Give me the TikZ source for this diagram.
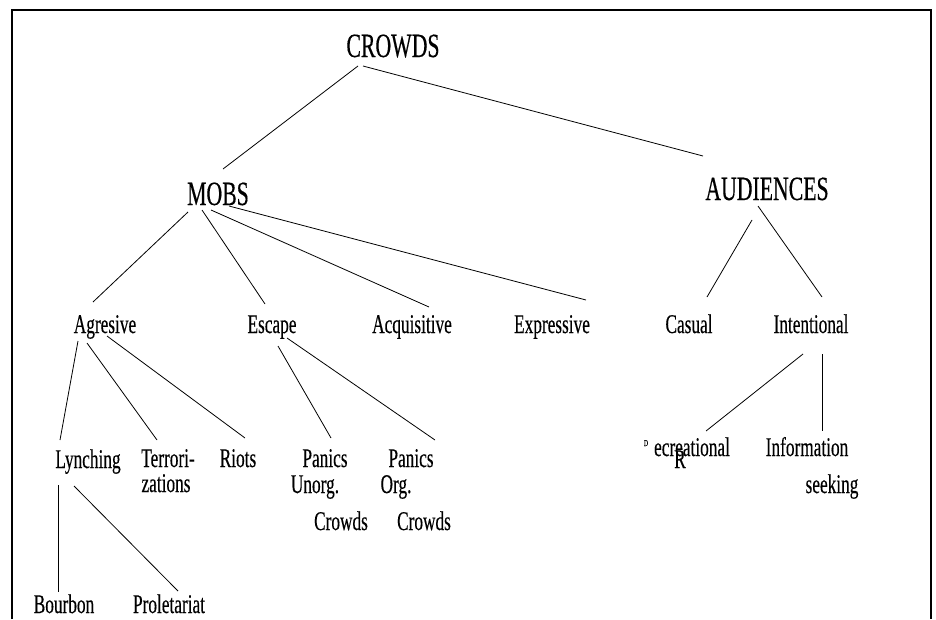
\documentclass[tikz,border=0pt]{standalone}
\usepackage{fontspec}
\setmainfont{Liberation Serif}[FakeStretch=0.64, FakeBold=0.3]

\begin{document}
\begin{tikzpicture}[x=1pt, y=-1pt, every node/.style={inner sep=0pt, anchor=base},
    big/.style={font=\fontsize{34}{40}\selectfont},
    small/.style={font=\fontsize{27}{32}\selectfont},
    tiny/.style={font=\fontsize{9}{10}\selectfont},
    link/.style={line width=0.8pt}]

\useasboundingbox (0,0) rectangle (936,619);
\draw [line width=2.4pt] (12,619) -- (12,10) -- (931,10) -- (931,619);

% nodes ---
\node [big] (crowds) at (393,57) {CROWDS};
\node [big] (mobs) at (218,205) {MOBS};
\node [big] (audiences) at (767,200) {AUDIENCES};

\node [small] (agresive) at (105,333) {Agresive};
\node [small] (escape) at (272,333) {Escape};
\node [small] (acquisitive) at (412,333) {Acquisitive};
\node [small] (expressive) at (552,333) {Expressive};
\node [small] (casual) at (689,333) {Casual};
\node [small] (intentional) at (811,333) {Intentional};

\node [small] (lynching) at (88,468) {Lynching};
\node [small] (terror) at (168,467) {Terrori-};
\node [small] at (166,492) {zations};
\node [small] (riots) at (238,467) {Riots};
\node [small] (panicsa) at (325,467) {Panics};
\node [small] at (315,493) {Unorg.};
\node [small] at (341,530) {Crowds};
\node [small] (panicsb) at (411,467) {Panics};
\node [small] at (396,493) {Org.};
\node [small] at (424,530) {Crowds};

\node [tiny] at (646,446) {D};
\node [small] (recreational) at (692,456) {ecreational};
\node [small] at (680,468) {R};
\node [small] (information) at (807,456) {Information};
\node [small] at (832,493) {seeking};

\node [small] (bourbon) at (64,613) {Bourbon};
\node [small] (proletariat) at (169,613) {Proletariat};

% links ---
\draw [link] ([shift={(-35,9)}]crowds.base) -- ([shift={(5,-36)}]mobs.base);
\draw [link] ([shift={(-30,9)}]crowds.base) -- ([shift={(-64,-44)}]audiences.base);

\draw [link] ([shift={(-30,7)}]mobs.base) -- ([shift={(-12,-31)}]agresive.base);
\draw [link] ([shift={(-16,5)}]mobs.base) -- ([shift={(-7,-29)}]escape.base);
\draw [link] ([shift={(-7,5)}]mobs.base) -- ([shift={(17,-26)}]acquisitive.base);
\draw [link] ([shift={(11,1)}]mobs.base) -- ([shift={(34,-33)}]expressive.base);

\draw [link] ([shift={(-15,20)}]audiences.base) -- ([shift={(18,-36)}]casual.base);
\draw [link] ([shift={(-9,6)}]audiences.base) -- ([shift={(11,-36)}]intentional.base);

\draw [link] ([shift={(-27,8)}]agresive.base) -- ([shift={(-28,-28)}]lynching.base);
\draw [link] ([shift={(-18,10)}]agresive.base) -- ([shift={(-11,-27)}]terror.base);
\draw [link] ([shift={(2,3)}]agresive.base) -- ([shift={(7,-29)}]riots.base);

\draw [link] ([shift={(6,13)}]escape.base) -- ([shift={(6,-29)}]panicsa.base);
\draw [link] ([shift={(15,5)}]escape.base) -- ([shift={(24,-27)}]panicsb.base);

\draw [link] ([shift={(-8,21)}]intentional.base) -- ([shift={(14,-25)}]recreational.base);
\draw [link] ([shift={(11,21)}]intentional.base) -- ([shift={(15,-25)}]information.base);

\draw [link] ([shift={(-30,17)}]lynching.base) -- ([shift={(-6,-21)}]bourbon.base);
\draw [link] ([shift={(-14,18)}]lynching.base) -- ([shift={(9,-22)}]proletariat.base);

\end{tikzpicture}
\end{document}
